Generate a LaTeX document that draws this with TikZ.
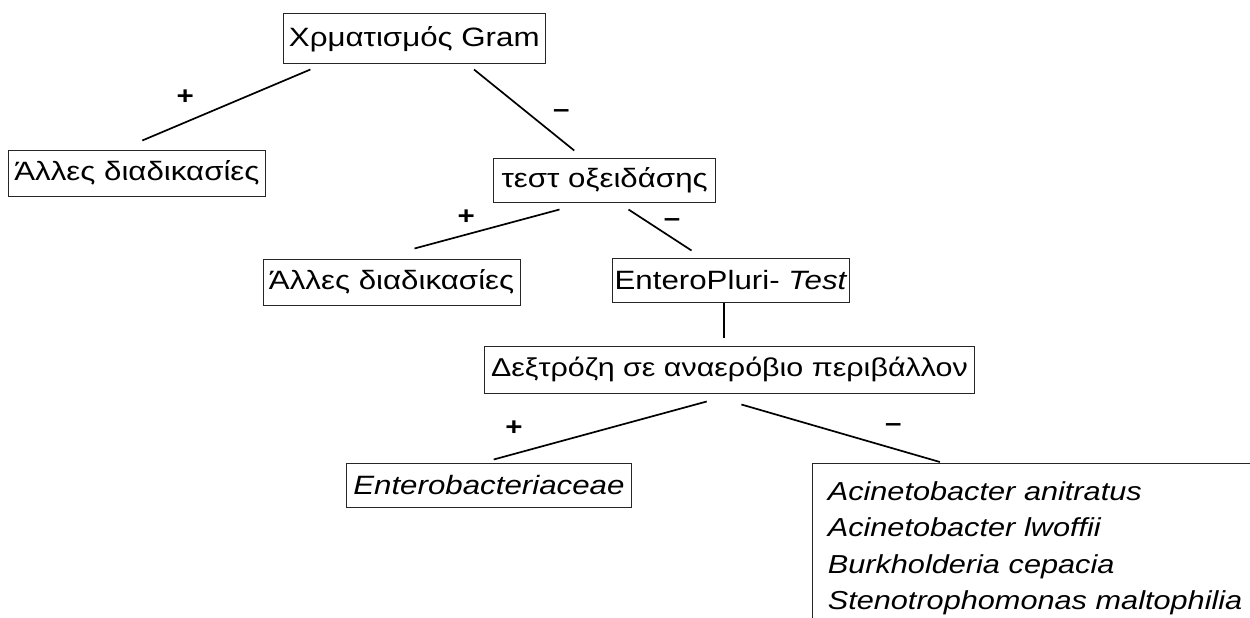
\documentclass[tikz,border=0pt]{standalone}
\usepackage{fontspec}
\setmainfont{Liberation Sans}[FakeStretch=1.18]
\usetikzlibrary{calc}
\tikzset{
  box/.style={draw=black!85, line width=1pt, inner sep=0pt, text=black, font=\fontsize{26.5}{30}\selectfont},
  conn/.style={line width=1.7pt, black},
  sign/.style={font=\bfseries\fontsize{25}{25}\selectfont, inner sep=0pt},
}
\begin{document}
\begin{tikzpicture}[x=1pt,y=-1pt]
\clip (0,0) rectangle (1250,618);
\fill[white] (0,0) rectangle (1250,618);
% boxes
\node[box, minimum width=262pt, minimum height=50pt] (gram) at (414.3,39) {Χρματισμός Gram};
\node[box, minimum width=257pt, minimum height=46pt] (alles1) at (136.9,173) {Άλλες διαδικασίες};
\node[box, minimum width=222.5pt, minimum height=44pt] (tau) at (604.65,180) {τεστ οξειδάσης};
\node[box, minimum width=257pt, minimum height=46pt] (alles2) at (391.6,282) {Άλλες διαδικασίες};
\node[box, minimum width=236.8pt, minimum height=44pt] (ep) at (731,280) {EnteroPluri- \textit{Test}};
\node[box, minimum width=490.2pt, minimum height=47pt, font=\fontsize{25.8}{30}\selectfont] (dex) at (729.4,369.5) {Δεξτρόζη σε αναερόβιο περιβάλλον};
\node[box, minimum width=284.2pt, minimum height=44pt] (ent) at (488.9,485) {\textit{Enterobacteriaceae}};
\node[box, anchor=north west, minimum width=480pt, minimum height=170pt, align=left, text width=470pt, inner xsep=0pt, font=\itshape\fontsize{26}{36.5}\selectfont] (last) at (812.3,463)
  {\hspace*{10pt}Acinetobacter anitratus\\\hspace*{10pt}Acinetobacter lwoffii\\\hspace*{10pt}Burkholderia cepacia\\\hspace*{10pt}Stenotrophomonas maltophilia};
% connectors
\draw[conn] ($(gram.south west)+(27.6,5)$) -- ($(alles1.north)+(5.4,-9)$);
\draw[conn] ($(gram.south east)+(-71.8,5)$) -- ($(tau.north west)+(81.3,-7)$);
\draw[conn] ($(tau.south west)+(66.6,7)$) -- ($(alles2.north)+(22.9,-10)$);
\draw[conn] ($(tau.south west)+(135.6,7)$) -- ($(ep.north west)+(79.4,-7)$);
\draw[conn] ($(ep.south east)+(-125.6,0)$) -- ($(dex.north east)+(-250.7,-8)$);
\draw[conn] ($(dex.south)+(-22.7,8)$) -- ($(ent.north west)+(147.4,-3)$);
\draw[conn] ($(dex.south)+(12,11)$) -- ($(last.north west)+(127.6,-1)$);
% signs
\node[sign] (s1) at (185.3,97) {+};
\node[sign] (s2) at (561.2,114) {–};
\node[sign] (s3) at (466.3,217) {+};
\node[sign] (s4) at (672,223) {–};
\node[sign] (s5) at (514.1,428) {+};
\node[sign] (s6) at (893.2,428) {–};
\end{tikzpicture}
\end{document}
